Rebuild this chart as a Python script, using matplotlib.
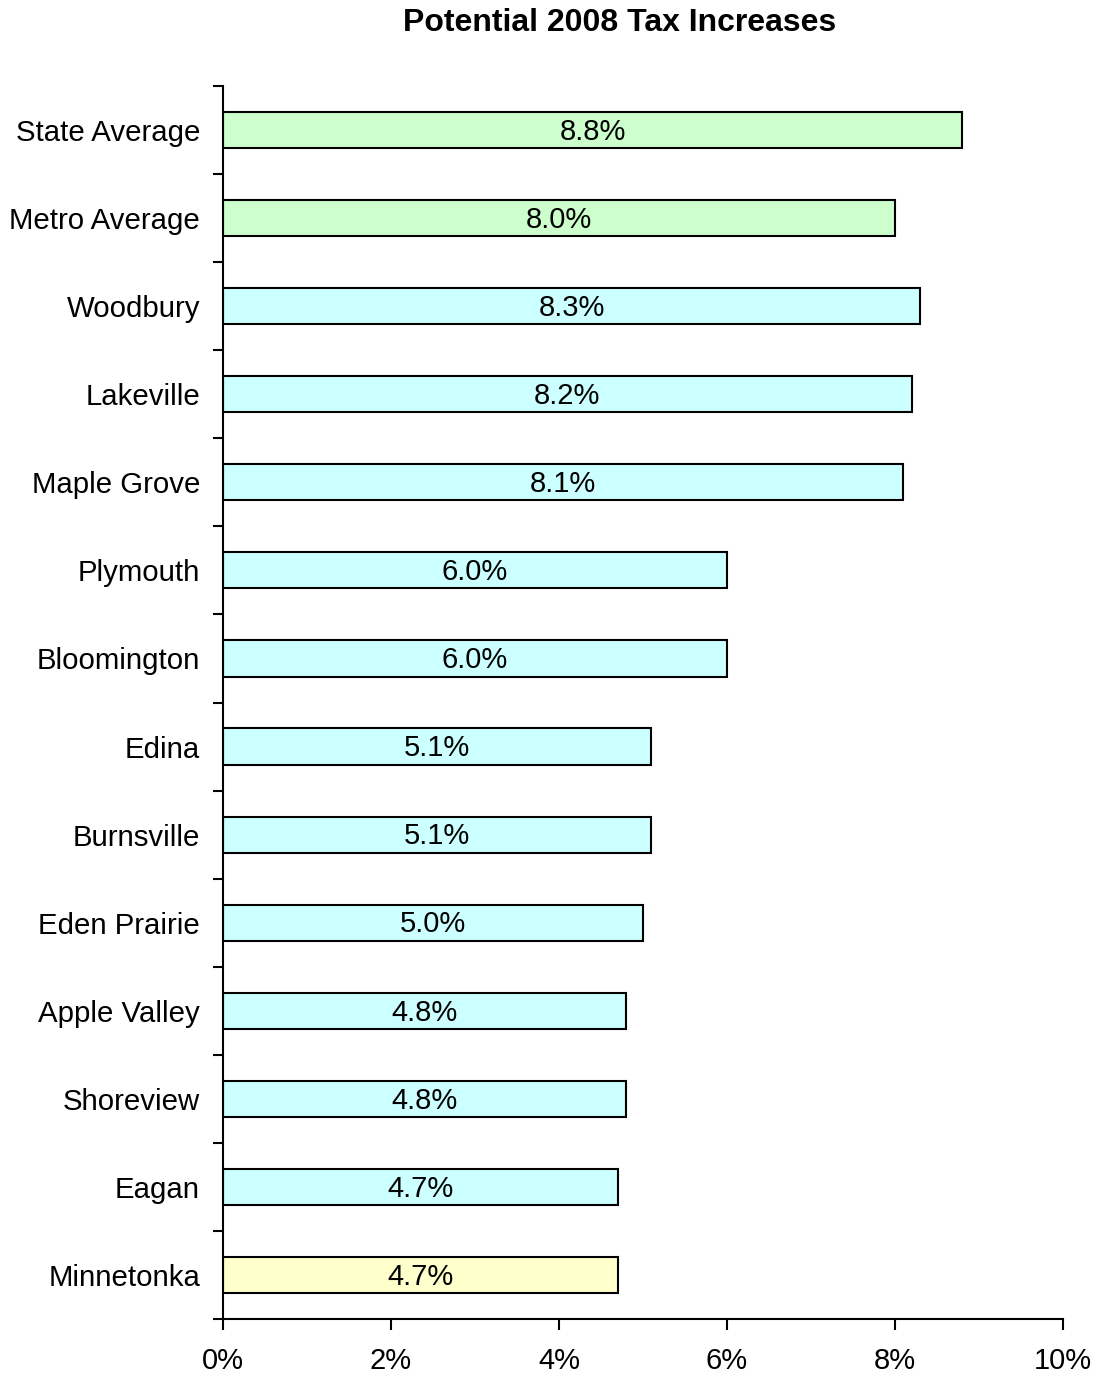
import matplotlib
matplotlib.use("Agg")
import matplotlib.pyplot as plt
import numpy as np

plt.rcParams['font.family'] = ['Liberation Sans', 'DejaVu Sans']

categories = ["State Average", "Metro Average", "Woodbury", "Lakeville", "Maple Grove",
              "Plymouth", "Bloomington", "Edina", "Burnsville", "Eden Prairie",
              "Apple Valley", "Shoreview", "Eagan", "Minnetonka"]
values = [8.8, 8.0, 8.3, 8.2, 8.1, 6.0, 6.0, 5.1, 5.1, 5.0, 4.8, 4.8, 4.7, 4.7]
colors = ["#CCFFCC", "#CCFFCC"] + ["#CCFFFF"] * 11 + ["#FFFFCC"]
xticks = [0, 2, 4, 6, 8, 10]
xticklabels = ["0%", "2%", "4%", "6%", "8%", "10%"]

fig = plt.figure(figsize=(10.99, 13.76), dpi=100)
ax = fig.add_axes([223/1099, 1 - 1319/1376, (1063-223)/1099, (1319-86)/1376])

y = np.arange(len(categories))
ax.barh(y, values, height=0.41, color=colors, edgecolor="black", linewidth=1.5)
for yi, v in zip(y, values):
    ax.text(v / 2, yi + 0.02, f"{v:.1f}%", ha="center", va="center", fontsize=21)

ax.set_ylim(len(categories) - 0.5, -0.5)
ax.set_xlim(0, 10)
ax.set_yticks(np.arange(-0.5, len(categories) + 0.5, 1))
ax.set_yticklabels([])
ax.set_yticks(y, minor=True)
ax.set_yticklabels(categories, minor=True, fontsize=21.2)
ax.tick_params(axis="y", which="minor", length=0, pad=16.5)
ax.tick_params(axis="y", which="major", length=7, width=1.5, direction="out")
ax.set_xticks(xticks)
ax.set_xticklabels(xticklabels, fontsize=21)
ax.tick_params(axis="x", length=8, width=1.5, direction="out", pad=12.5)

for s in ["top", "right"]:
    ax.spines[s].set_visible(False)
for s in ["left", "bottom"]:
    ax.spines[s].set_linewidth(1.5)

fig.text(620/1099, 1 - 23/1376, "Potential 2008 Tax Increases", ha="center", va="center",
         fontsize=23, fontweight="bold")

fig.savefig("out.png", dpi=100)
